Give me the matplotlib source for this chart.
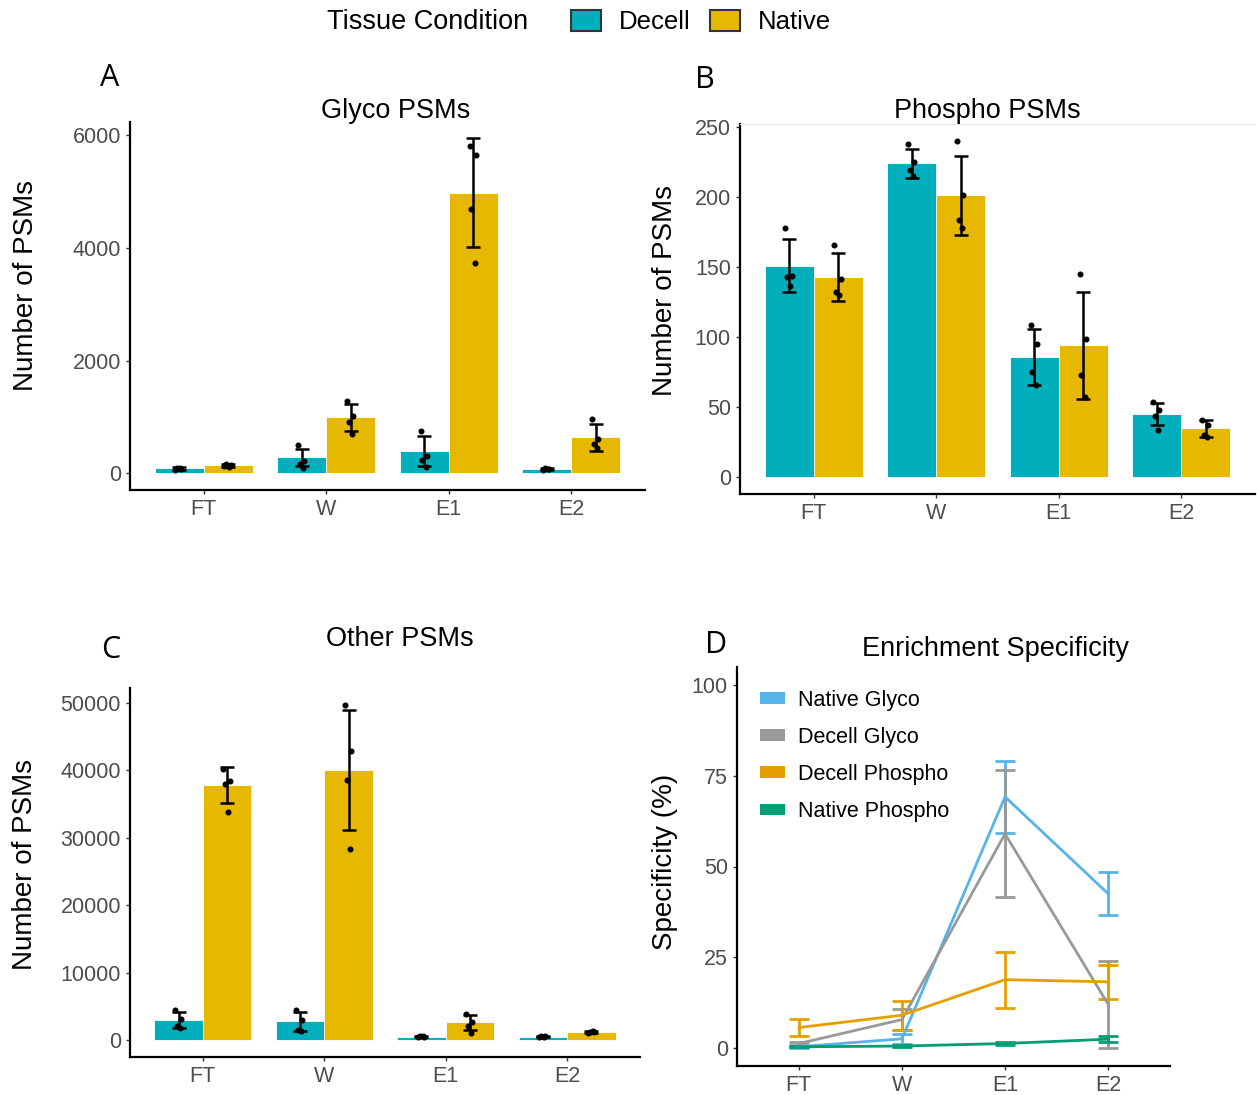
import matplotlib
matplotlib.use("Agg")
import matplotlib.pyplot as plt
import numpy as np
from matplotlib.patches import Patch

plt.rcParams['font.family'] = ['Liberation Sans', 'DejaVu Sans']

''' DATA '''
fractions = ["FT", "W", "E1", "E2"]
conditions = ["Decell", "Native"]

glyco_mean = {"Decell": [85, 280, 390, 75], "Native": [140, 990, 4980, 635]}
glyco_sd = {"Decell": [20, 150, 270, 15], "Native": [30, 245, 965, 235]}
glyco_pts = {
    "Decell": [[50, 70, 100, 85], [495, 220, 163, 100], [750, 310, 240, 110], [60, 70, 85, 80]],
    "Native": [[130, 150, 170, 110], [1275, 1020, 905, 690], [5800, 5650, 4680, 3730], [965, 615, 515, 455]],
}

phospho_mean = {"Decell": [151, 224, 86, 45], "Native": [143, 201, 94, 35]}
phospho_sd = {"Decell": [18.6, 10.5, 20, 8], "Native": [17, 28, 38, 6]}
phospho_pts = {
    "Decell": [[177.6, 143.8, 143, 136.7], [237.6, 225, 219, 215], [108.6, 94.8, 74.8, 65.7], [53.8, 47.9, 43.6, 34]],
    "Native": [[166, 141.4, 132, 130], [240, 201, 183.6, 177.6], [144.8, 98.6, 72.9, 57], [40.7, 37, 30, 28.8]],
}

other_mean = {"Decell": [3020, 2830, 550, 550], "Native": [37800, 40000, 2650, 1200]}
other_sd = {"Decell": [1200, 1400, 80, 80], "Native": [2650, 8900, 1130, 160]}
other_pts = {
    "Decell": [[4500, 3130, 2040, 1800], [4500, 3020, 1550, 1300], [480, 550, 600, 560], [500, 560, 600, 540]],
    "Native": [[40150, 38420, 37930, 33900], [49730, 42850, 38530, 28350], [3860, 2770, 2040, 1060], [1050, 1150, 1250, 1300]],
}

spec_series = ["Native Glyco", "Decell Glyco", "Decell Phospho", "Native Phospho"]
spec_mean = {
    "Native Glyco": [0.3, 2.5, 69.2, 42.5],
    "Decell Glyco": [1.2, 7.8, 59.0, 12.0],
    "Decell Phospho": [5.6, 9.0, 18.8, 18.2],
    "Native Phospho": [0.3, 0.5, 1.2, 2.4],
}
spec_sd = {
    "Native Glyco": [0.2, 1.3, 10.0, 5.9],
    "Decell Glyco": [0.3, 3.0, 17.5, 12.0],
    "Decell Phospho": [2.4, 4.0, 7.7, 4.6],
    "Native Phospho": [0.1, 0.2, 0.3, 0.9],
}

''' STYLE '''
bar_colors = {"Decell": "#00AFBB", "Native": "#E7B800"}
line_colors = {"Native Glyco": "#56B4E9", "Decell Glyco": "#999999",
               "Decell Phospho": "#E69F00", "Native Phospho": "#009E73"}
tick_col = "#4D4D4D"
jit = [-0.03, 0.02, -0.015, 0.01]

W, H = 1257, 1095
fig = plt.figure(figsize=(W / 100, H / 100), dpi=100)


def px_axes(left, top, right, bottom):
    return fig.add_axes([left / W, 1 - bottom / H, (right - left) / W, (bottom - top) / H])


def style_axes(ax):
    for s in ["top", "right"]:
        ax.spines[s].set_visible(False)
    for s in ["left", "bottom"]:
        ax.spines[s].set_linewidth(1.6)
        ax.spines[s].set_color("black")
    ax.tick_params(axis="both", labelsize=15.5, labelcolor=tick_col, length=3, width=1, color="#333333")
    ax.set_facecolor("white")


def bar_panel(ax, means, sds, pts, title, title_xy, ylim, yticks, label_xy):
    x = np.arange(len(fractions))
    for cond in conditions:
        off = -0.2 if cond == "Decell" else 0.2
        ax.bar(x + off, means[cond], width=0.4, color=bar_colors[cond], edgecolor="white", linewidth=0.6, zorder=2)
        ax.errorbar(x + off, means[cond], yerr=sds[cond], fmt="none", ecolor="black",
                    elinewidth=1.8, capsize=4.7, capthick=1.8, zorder=3)
        for j in range(len(fractions)):
            vals = pts[cond][j]
            ax.scatter(x[j] + off + np.array(jit[:len(vals)]), vals, s=11, color="black", zorder=4)
    ax.set_xlim(-0.6, 3.6)
    ax.set_ylim(*ylim)
    ax.set_xticks(x)
    ax.set_xticklabels(fractions)
    ax.set_yticks(yticks)
    style_axes(ax)
    ax.set_ylabel("Number of PSMs", fontsize=20, va="center")
    ax.yaxis.set_label_coords(*label_xy)
    ax.text(title_xy[0], title_xy[1], title, transform=ax.transAxes, fontsize=19.5,
            ha="center", va="center")


axA = px_axes(130, 122, 645, 490)
bar_panel(axA, glyco_mean, glyco_sd, glyco_pts, "Glyco PSMs", (0.516, 1.03),
          (-297, 6232), [0, 2000, 4000, 6000], (-0.202, 0.557))

axB = px_axes(740, 124, 1255, 494)
bar_panel(axB, phospho_mean, phospho_sd, phospho_pts, "Phospho PSMs", (0.48, 1.035),
          (-12, 252), [0, 50, 100, 150, 200, 250], (-0.145, 0.551))
axB.spines["top"].set_visible(True)
axB.spines["top"].set_color("#E5E5E5")
axB.spines["top"].set_linewidth(0.8)

axC = px_axes(130, 688, 640, 1057)
bar_panel(axC, other_mean, other_sd, other_pts, "Other PSMs", (0.529, 1.132),
          (-2487, 52217), [0, 10000, 20000, 30000, 40000, 50000], (-0.206, 0.523))

axD = px_axes(737, 667, 1170, 1066)
xd = np.arange(len(fractions))
for name in spec_series:
    axD.errorbar(xd, spec_mean[name], yerr=spec_sd[name], color=line_colors[name],
                 linewidth=2.0, elinewidth=2.0, capsize=7.2, capthick=2.0)
axD.set_xlim(-0.6, 3.6)
axD.set_ylim(-5, 105)
axD.set_xticks(xd)
axD.set_xticklabels(fractions)
axD.set_yticks([0, 25, 50, 75, 100])
style_axes(axD)
axD.set_ylabel("Specificity (%)", fontsize=20, va="center")
axD.yaxis.set_label_coords(-0.166, 0.511)
axD.text(0.596, 1.045, "Enrichment Specificity", transform=axD.transAxes, fontsize=19.5,
         ha="center", va="center")
leg_handles = [Patch(facecolor=line_colors[n], edgecolor="none") for n in spec_series]
axD.legend(leg_handles, spec_series, loc="upper left", bbox_to_anchor=(0.053, 0.943),
           frameon=False, fontsize=15.5, handlelength=1.16, handleheight=0.47,
           handletextpad=0.6, labelspacing=0.75, borderpad=0, borderaxespad=0)

''' PANEL LETTERS + TOP LEGEND '''
for letter, (lx, ly) in zip("ABCD", [(110, 78), (705, 80), (111, 650), (716, 645)]):
    fig.text(lx / W, 1 - ly / H, letter, fontsize=22, ha="center", va="center",
             family=["Open Sans", "DejaVu Sans"])

fig.text(327 / W, 1 - 22 / H, "Tissue Condition", fontsize=19.5, ha="left", va="center")
top_handles = [Patch(facecolor=bar_colors[c], edgecolor="#333333", linewidth=1.5) for c in conditions]
fig.legend(top_handles, conditions, loc="center", bbox_to_anchor=(701 / W, 1 - 22 / H),
           ncol=2, frameon=False, fontsize=18.5, handlelength=1.17, handleheight=0.93,
           handletextpad=0.7, columnspacing=0.75, borderpad=0)

fig.savefig("out.png", dpi=100, facecolor="white")
